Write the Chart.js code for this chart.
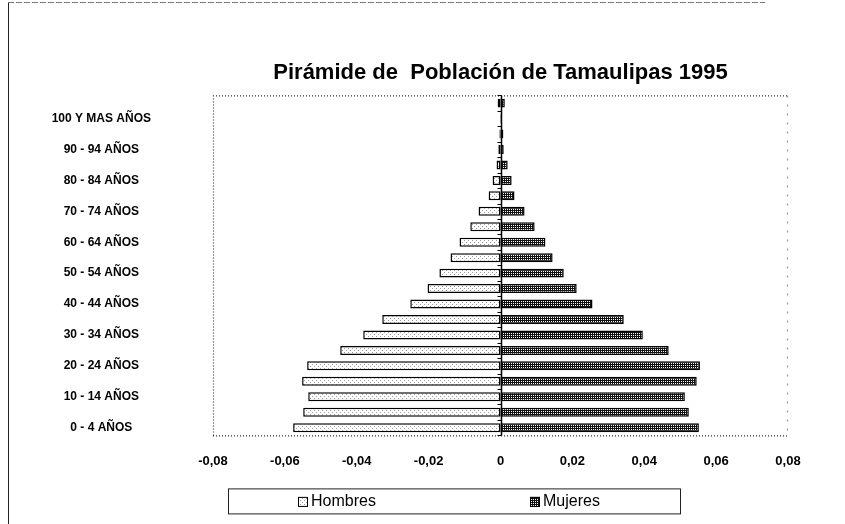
<!DOCTYPE html>
<html>
<head>
<meta charset="utf-8">
<script src="https://cdn.jsdelivr.net/npm/chart.js@4.4.0/dist/chart.umd.min.js"></script>
<style>
  body { margin: 0; background: #fff; }
</style>
</head>
<body>
<canvas id="myChart" width="845" height="524"></canvas>
<script>
// grupos de edad, de abajo hacia arriba
var grupos = ["0 - 4 AÑOS", "5 - 9 AÑOS", "10 - 14 AÑOS", "15 - 19 AÑOS", "20 - 24 AÑOS",
    "25 - 29 AÑOS", "30 - 34 AÑOS", "35 - 39 AÑOS", "40 - 44 AÑOS", "45 - 49 AÑOS",
    "50 - 54 AÑOS", "55 - 59 AÑOS", "60 - 64 AÑOS", "65 - 69 AÑOS", "70 - 74 AÑOS",
    "75 - 79 AÑOS", "80 - 84 AÑOS", "85 - 89 AÑOS", "90 - 94 AÑOS", "95 - 99 AÑOS",
    "100 Y MAS AÑOS", "NO ESPECIFICADO"];
var hombres = [-0.0577, -0.0549, -0.0535, -0.0552, -0.0538, -0.0446, -0.0382, -0.0329,
    -0.0251, -0.0203, -0.0170, -0.0139, -0.0114, -0.0084, -0.0061, -0.0033, -0.0022,
    -0.0011, -0.0006, -0.0003, -0.0001, -0.0008];
var mujeres = [0.0552, 0.0524, 0.0513, 0.0546, 0.0555, 0.0468, 0.0396, 0.0343,
    0.0256, 0.0212, 0.0176, 0.0145, 0.0125, 0.0095, 0.0067, 0.0039, 0.0031,
    0.0020, 0.0009, 0.0008, 0.0001, 0.0012];
var xMin = -0.08, xMax = 0.08, xPaso = 0.02;

// tramas de relleno
function trama(fondo, punto, pts) {
    var c = document.createElement('canvas');
    c.width = 4; c.height = 4;
    var g = c.getContext('2d');
    g.fillStyle = fondo;
    g.fillRect(0, 0, 4, 4);
    g.fillStyle = punto;
    pts.forEach(function (p) { g.fillRect(p[0], p[1], 1, 1); });
    return g.createPattern(c, 'repeat');
}
var tramaH = trama('#ffffff', '#9a9a9a', [[0, 0], [2, 2]]);
var tramaM = trama('#111111', '#ffffff', [[1, 1], [3, 3], [1, 3], [3, 1]]);

var fuente = "'Liberation Sans', Arial, sans-serif";

var marco = {
    id: 'marco',
    beforeDraw: function (chart) {
        var c = chart.ctx;
        c.save();
        c.strokeStyle = '#222';
        c.lineWidth = 1;
        c.beginPath();
        c.moveTo(8.5, 2);
        c.lineTo(8.5, chart.height);
        c.stroke();
        c.strokeStyle = '#777';
        c.setLineDash([6, 2]);
        c.beginPath();
        c.moveTo(8, 2.5);
        c.lineTo(chart.width - 80, 2.5);
        c.stroke();
        c.restore();
    },
    afterDatasetsDraw: function (chart) {
        var c = chart.ctx, a = chart.chartArea;
        var x = chart.scales.x, y = chart.scales.y;
        c.save();
        // borde punteado del area de trazado
        c.strokeStyle = '#333';
        c.lineWidth = 1.2;
        c.setLineDash([1, 2]);
        c.beginPath();
        c.moveTo(a.left + 0.5, a.bottom);
        c.lineTo(a.left + 0.5, a.top + 0.5);
        c.lineTo(a.right, a.top + 0.5);
        c.moveTo(a.left, a.bottom + 0.5);
        c.lineTo(a.right, a.bottom + 0.5);
        c.stroke();
        c.strokeStyle = '#999';
        c.setLineDash([2, 7]);
        c.beginPath();
        c.moveTo(a.right - 0.5, a.top);
        c.lineTo(a.right - 0.5, a.bottom);
        c.stroke();
        // eje en cero con marcas
        c.setLineDash([]);
        c.strokeStyle = '#000';
        c.lineWidth = 1.5;
        var x0 = Math.round(x.getPixelForValue(0)) + 0.5;
        c.beginPath();
        c.moveTo(x0, a.top);
        c.lineTo(x0, a.bottom);
        c.stroke();
        c.lineWidth = 1;
        c.beginPath();
        for (var i = 0; i <= grupos.length; i++) {
            var yy = Math.round(y.getPixelForValue(i - 0.5)) + 0.5;
            c.moveTo(x0 - 4, yy);
            c.lineTo(x0, yy);
        }
        c.stroke();
        c.restore();
    },
    afterDraw: function (chart) {
        // leyenda enmarcada
        var c = chart.ctx, a = chart.chartArea;
        var sets = chart.data.datasets;
        var izq = a.left + 15, der = a.left + 467, arr = a.bottom + 53, alto = 25;
        c.save();
        c.strokeStyle = '#222';
        c.lineWidth = 1;
        c.strokeRect(izq + 0.5, arr + 0.5, der - izq, alto);
        c.font = "16px " + fuente;
        c.textBaseline = 'middle';
        var pos = [izq + 70, izq + 302];
        sets.forEach(function (ds, i) {
            var cy = arr + alto / 2 + 1;
            c.fillStyle = ds.backgroundColor;
            c.fillRect(pos[i], cy - 5, 10, 10);
            c.strokeStyle = '#000';
            c.strokeRect(pos[i] + 0.5, cy - 4.5, 9, 9);
            c.fillStyle = '#000';
            c.fillText(ds.label, pos[i] + 13, cy);
        });
        c.restore();
    }
};

new Chart(document.getElementById('myChart'), {
    type: 'bar',
    data: {
        labels: grupos,
        datasets: [
            { label: 'Hombres', data: hombres, backgroundColor: tramaH,
              borderColor: '#000', borderWidth: 1.5, borderSkipped: false },
            { label: 'Mujeres', data: mujeres, backgroundColor: tramaM,
              borderColor: '#000', borderWidth: 1.5, borderSkipped: false }
        ]
    },
    options: {
        indexAxis: 'y',
        responsive: false,
        animation: false,
        layout: { padding: { left: 8, right: 57, bottom: 37, top: 0 } },
        datasets: { bar: { categoryPercentage: 1, barPercentage: 0.58 } },
        plugins: {
            legend: { display: false },
            tooltip: { enabled: false },
            title: {
                display: true,
                fullSize: false,
                text: 'Pirámide de  Población de Tamaulipas 1995',
                color: '#000',
                font: { family: fuente, size: 22, weight: 'bold' },
                padding: { top: 60, bottom: 9 }
            }
        },
        scales: {
            x: {
                stacked: true,
                min: xMin, max: xMax,
                grid: { display: false, drawTicks: false },
                border: { display: false },
                ticks: {
                    stepSize: xPaso,
                    padding: 18,
                    color: '#000',
                    font: { family: fuente, size: 13, weight: 'bold' },
                    callback: function (v) {
                        if (Math.abs(v) < 1e-9) return '0';
                        return v.toFixed(2).replace('.', ',');
                    }
                }
            },
            y: {
                stacked: true,
                reverse: true,
                grid: { display: false, drawTicks: false },
                border: { display: false },
                afterFit: function (s) { s.width = 205; },
                ticks: {
                    autoSkip: false,
                    crossAlign: 'center',
                    padding: 62,
                    color: '#000',
                    font: { family: fuente, size: 12, weight: 'bold' },
                    callback: function (v, i) { return i % 2 === 0 ? grupos[i] : ''; }
                }
            }
        }
    },
    plugins: [marco]
});
</script>
</body>
</html>
